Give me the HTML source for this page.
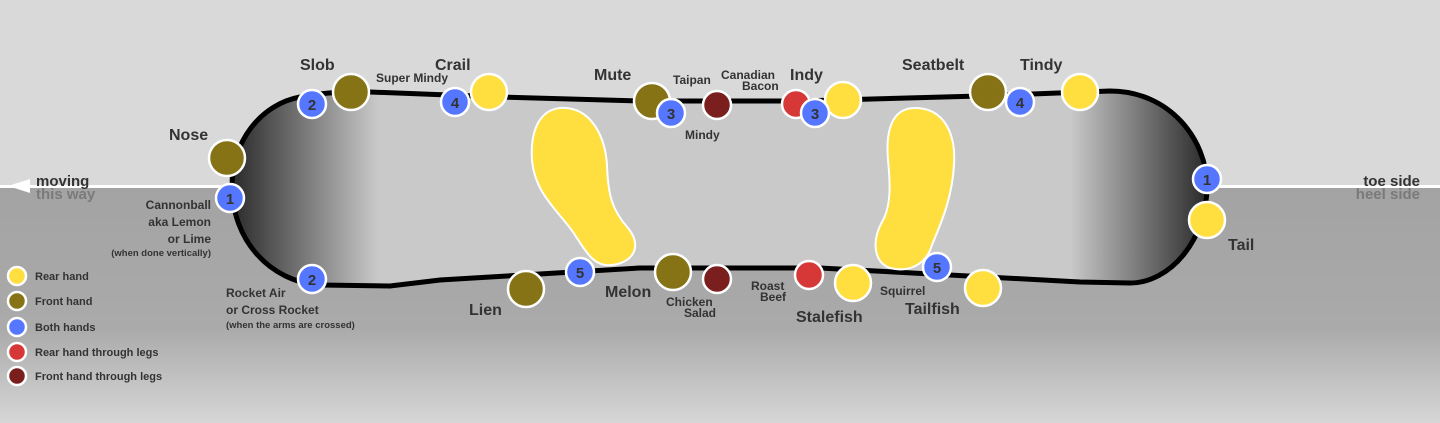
<!DOCTYPE html>
<html><head><meta charset="utf-8"><style>
body{margin:0;width:1440px;height:423px;overflow:hidden;font-family:"Liberation Sans",Arial,sans-serif}
svg{display:block}
text{font-family:"Liberation Sans",Arial,sans-serif;font-weight:bold;fill:#333}
</style></head><body>
<svg width="1440" height="423" viewBox="0 0 1440 423">
<defs>
<linearGradient id="bot" x1="0" y1="0" x2="0" y2="1">
<stop offset="0" stop-color="#a3a3a3"/><stop offset="0.6" stop-color="#aaaaaa"/><stop offset="1" stop-color="#d6d6d6"/>
</linearGradient>
<linearGradient id="board" x1="232" y1="0" x2="1207" y2="0" gradientUnits="userSpaceOnUse">
<stop offset="0" stop-color="#2a2a2a"/><stop offset="0.15" stop-color="#c9c9c9"/><stop offset="0.86" stop-color="#c9c9c9"/><stop offset="1" stop-color="#2a2a2a"/>
</linearGradient>
</defs>
<rect width="1440" height="186" fill="#d9d9d9"/>
<rect y="186" width="1440" height="237" fill="url(#bot)"/>
<rect y="185" width="1440" height="3" fill="#fff"/>
<polygon points="8,186 30,179 30,193" fill="#fff"/>
<path d="M300,97 Q330,91 370,92 L500,97 L640,101 L800,101 L980,96 L1110,91 C1170,91 1207,140 1207,186 C1207,240 1170,283 1130,283 L1080,282 L820,268 L640,268 L440,280 L390,286 L320,285 C270,282 232,240 232,186 C232,140 262,104 300,97 Z" fill="url(#board)" stroke="#000" stroke-width="5"/>
<path d="M560,108 C590,106 605,135 607,165 C608,195 612,210 628,228 C642,245 635,262 612,265 C595,267 588,255 575,235 C560,212 535,195 532,160 C530,130 540,110 560,108 Z" fill="#ffdf3f" stroke="#fff" stroke-width="2"/>
<path d="M915,108 C945,108 956,135 954,165 C952,200 940,225 932,245 C925,268 905,272 890,268 C873,262 872,240 882,222 C892,205 890,180 888,160 C885,125 895,108 915,108 Z" fill="#ffdf3f" stroke="#fff" stroke-width="2"/>
<g stroke="#fff" stroke-width="2.5">
<circle cx="227" cy="158" r="18" fill="#857315"/>
<circle cx="351" cy="92" r="18" fill="#857315"/>
<circle cx="489" cy="92" r="18" fill="#ffdf3f"/>
<circle cx="652" cy="101" r="18" fill="#857315"/>
<circle cx="717" cy="105" r="14" fill="#7a1e1e"/>
<circle cx="796" cy="104" r="14" fill="#d63838"/>
<circle cx="843" cy="100" r="18" fill="#ffdf3f"/>
<circle cx="988" cy="92" r="18" fill="#857315"/>
<circle cx="1080" cy="92" r="18" fill="#ffdf3f"/>
<circle cx="1207" cy="220" r="18" fill="#ffdf3f"/>
<circle cx="526" cy="289" r="18" fill="#857315"/>
<circle cx="673" cy="272" r="18" fill="#857315"/>
<circle cx="717" cy="279" r="14" fill="#7a1e1e"/>
<circle cx="809" cy="275" r="14" fill="#d63838"/>
<circle cx="853" cy="283" r="18" fill="#ffdf3f"/>
<circle cx="983" cy="288" r="18" fill="#ffdf3f"/>
<g fill="#5577ff">
<circle cx="230" cy="198" r="14"/><circle cx="312" cy="104" r="14"/><circle cx="455" cy="102" r="14"/>
<circle cx="671" cy="113" r="14"/><circle cx="815" cy="113" r="14"/><circle cx="1020" cy="102" r="14"/>
<circle cx="1207" cy="179" r="14"/><circle cx="312" cy="279" r="14"/><circle cx="580" cy="272" r="14"/><circle cx="937" cy="267" r="14"/>
</g>
<circle cx="17" cy="276" r="9" fill="#ffdf3f"/>
<circle cx="17" cy="301" r="9" fill="#857315"/>
<circle cx="17" cy="327" r="9" fill="#5577ff"/>
<circle cx="17" cy="352" r="9" fill="#d63838"/>
<circle cx="17" cy="376" r="9" fill="#7a1e1e"/>
</g>
<g font-size="15" text-anchor="middle">
<text x="230" y="204">1</text><text x="312" y="110">2</text><text x="455" y="108">4</text>
<text x="671" y="119">3</text><text x="815" y="119">3</text><text x="1020" y="108">4</text>
<text x="1207" y="185">1</text><text x="312" y="285">2</text><text x="580" y="278">5</text><text x="937" y="273">5</text>
</g>
<g font-size="16">
<text x="169" y="140">Nose</text><text x="300" y="70">Slob</text><text x="435" y="70">Crail</text>
<text x="594" y="80">Mute</text><text x="790" y="80">Indy</text><text x="902" y="70">Seatbelt</text>
<text x="1020" y="70">Tindy</text><text x="1228" y="250">Tail</text><text x="469" y="315">Lien</text>
<text x="605" y="297">Melon</text><text x="796" y="322">Stalefish</text><text x="905" y="314">Tailfish</text>
</g>
<g font-size="12">
<text x="376" y="82">Super Mindy</text><text x="673" y="84">Taipan</text>
<text x="721" y="79">Canadian</text><text x="742" y="90">Bacon</text>
<text x="685" y="139">Mindy</text>
<text x="751" y="290">Roast</text><text x="760" y="301">Beef</text>
<text x="666" y="306">Chicken</text><text x="684" y="317">Salad</text>
<text x="880" y="295">Squirrel</text>
<text x="211" y="209" text-anchor="end">Cannonball</text>
<text x="211" y="226" text-anchor="end">aka Lemon</text>
<text x="211" y="243" text-anchor="end">or Lime</text>
<text x="226" y="297">Rocket Air</text><text x="226" y="314">or Cross Rocket</text>
</g>
<g font-size="9.5">
<text x="211" y="256" text-anchor="end">(when done vertically)</text>
<text x="226" y="328">(when the arms are crossed)</text>
</g>
<g font-size="11">
<text x="35" y="280">Rear hand</text><text x="35" y="305">Front hand</text><text x="35" y="331">Both hands</text>
<text x="35" y="356">Rear hand through legs</text><text x="35" y="380">Front hand through legs</text>
</g>
<g font-size="15">
<text x="36" y="186">moving</text><text x="36" y="199" style="fill:#7a7a7a">this way</text>
<text x="1420" y="186" text-anchor="end">toe side</text><text x="1420" y="199" text-anchor="end" style="fill:#7a7a7a">heel side</text>
</g>
</svg>
</body></html>
